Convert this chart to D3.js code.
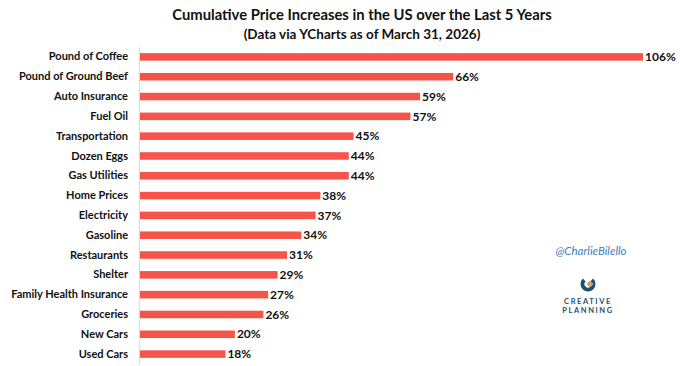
<!DOCTYPE html>
<html>
<head>
<meta charset="utf-8">
<script src="https://cdn.jsdelivr.net/npm/d3@7"></script>
<style>
  body { margin: 0; background: #fff; }
  svg { display: block; font-family: Lato, "Open Sans", sans-serif; }
</style>
</head>
<body>
<div id="chart"></div>
<script>
//Chart data
const categories = ["Pound of Coffee", "Pound of Ground Beef", "Auto Insurance", "Fuel Oil",
    "Transportation", "Dozen Eggs", "Gas Utilities", "Home Prices", "Electricity", "Gasoline",
    "Restaurants", "Shelter", "Family Health Insurance", "Groceries", "New Cars", "Used Cars"];
const values = [106, 66, 59, 57, 45, 44, 44, 38, 37, 34, 31, 29, 27, 26, 20, 18];
const title = "Cumulative Price Increases in the US over the Last 5 Years";
const subtitle = "(Data via YCharts as of March 31, 2026)";

const w = 680;
const h = 366;
const margin = { top: 47, right: 37, bottom: 2, left: 140 };

const svg = d3.select("#chart")
    .append("svg")
    .attr("width", w)
    .attr("height", h)

//Titles
svg.append("text")
    .attr("x", 362)
    .attr("y", 20)
    .attr("text-anchor", "middle")
    .attr("font-size", 14.8)
    .attr("font-weight", "bold")
    .attr("fill", "#111")
    .text(title)

svg.append("text")
    .attr("x", 362)
    .attr("y", 39)
    .attr("text-anchor", "middle")
    .attr("font-size", 13.5)
    .attr("font-weight", "bold")
    .attr("fill", "#111")
    .text(subtitle)

//Scales
const x = d3.scaleLinear()
    .domain([0, 106])
    .range([margin.left, 643])

const y = d3.scaleBand()
    .domain(categories)
    .range([margin.top, h - margin.bottom])
    .paddingInner(0.62)
    .paddingOuter(0.31)

//Bars
svg.append("g")
    .selectAll("rect")
    .data(values)
    .join("rect")
    .attr("x", x(0))
    .attr("y", (d, i) => y(categories[i]))
    .attr("width", (d) => x(d) - x(0))
    .attr("height", y.bandwidth())
    .attr("fill", "#f5544a")

//Category axis (no ticks, just the line)
const yAxis = svg.append("g")
    .attr("transform", "translate(" + (x(0) - 1) + ",0)")
    .call(d3.axisLeft(y).tickSize(0).tickPadding(11))
yAxis.select(".domain").attr("stroke", "#d9d9d9")
yAxis.selectAll("text")
    .attr("font-size", 11)
    .attr("font-weight", "bold")
    .attr("fill", "#111")
    .attr("font-family", "Lato, 'Open Sans', sans-serif")

//Value labels
svg.append("g")
    .selectAll("text")
    .data(values)
    .join("text")
    .attr("x", (d) => x(d) + 2)
    .attr("y", (d, i) => y(categories[i]) + y.bandwidth() / 2)
    .attr("dy", "0.35em")
    .attr("font-size", 12)
    .attr("font-weight", "bold")
    .attr("fill", "#111")
    .text((d) => d + "%")

//Watermark
svg.append("text")
    .attr("x", 591)
    .attr("y", 255)
    .attr("text-anchor", "middle")
    .attr("font-size", 11.5)
    .attr("font-style", "italic")
    .attr("fill", "#3f7fb8")
    .text("@CharlieBilello")

//Creative Planning logo
const logo = svg.append("g").attr("transform", "translate(588,284)")
logo.append("path")
    .attr("d", d3.arc()({ innerRadius: 3.5, outerRadius: 7.5, startAngle: 0.75, endAngle: 2 * Math.PI - 0.75 }))
    .attr("fill", "#1f4e6e")
logo.append("rect")
    .attr("x", -2.5).attr("y", -2.5).attr("width", 5).attr("height", 5)
    .attr("transform", "translate(2,0) rotate(45)")
    .attr("fill", "#c9a27a")
logo.append("text")
    .attr("y", 20)
    .attr("text-anchor", "middle")
    .attr("font-size", 7.5)
    .attr("font-weight", "bold")
    .attr("letter-spacing", 1.6)
    .attr("fill", "#1f4e6e")
    .text("CREATIVE")
logo.append("text")
    .attr("y", 29)
    .attr("text-anchor", "middle")
    .attr("font-size", 7.5)
    .attr("font-weight", "bold")
    .attr("letter-spacing", 1.6)
    .attr("fill", "#1f4e6e")
    .text("PLANNING")
</script>
</body>
</html>
